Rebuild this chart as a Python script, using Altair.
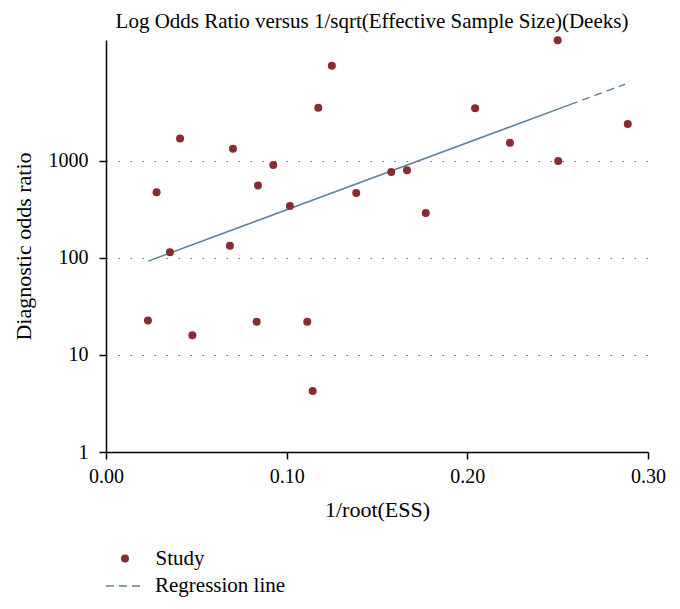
import altair as alt
import pandas as pd

# Study points: x = 1/root(ESS), y = diagnostic odds ratio
study_x = [0.250, 0.125, 0.1175, 0.2043, 0.2888, 0.0410, 0.0703, 0.2236, 0.2503,
           0.0926, 0.1579, 0.1666, 0.0280, 0.0841, 0.1385, 0.1018, 0.1770, 0.0354,
           0.0686, 0.0232, 0.0478, 0.0834, 0.1114, 0.1144]
study_dor = [17400, 9530, 3520, 3470, 2390, 1690, 1330, 1534, 993,
             903, 765, 796, 472, 557, 465, 341, 289, 114,
             133, 22.6, 15.9, 21.9, 21.9, 4.25]

# Regression line (solid over the data range, dashed extension)
reg_x = [0.0234, 0.2568]
reg_y = [92.5, 3780]
ext_x = [0.2568, 0.2873]
ext_y = [3780, 6130]

y_ticks = [1, 10, 100, 1000]
x_ticks = [0.0, 0.1, 0.2, 0.3]

RED = "#8B2B33"
BLUE = "#5E80A0"
FONT = "Liberation Serif"

pts = pd.DataFrame({"x": study_x, "y": study_dor, "kind": ["Study"] * len(study_x)})
reg = pd.DataFrame({"x": reg_x, "y": reg_y})
ext = pd.DataFrame({"x": ext_x, "y": ext_y, "kind2": ["Regression line"] * len(ext_x)})

xscale = alt.Scale(domain=[0, 0.3], nice=False, zero=False)
yscale = alt.Scale(type="log", domain=[1, 17500], nice=False)

xaxis = alt.Axis(values=x_ticks, format=".2f", title="1/root(ESS)", grid=False,
                 tickSize=7, labelPadding=7, titlePadding=13, labelFlush=False,
                 titleFontSize=22)
yaxis = alt.Axis(values=y_ticks, format="d", title="Diagnostic odds ratio",
                 grid=True, gridDash=[1.5, 10.5], gridColor="#666666", gridWidth=1.2,
                 tickSize=7, labelPadding=11, titlePadding=13, labelFlush=False,
                 titleFontSize=22)

points = alt.Chart(pts).mark_circle(size=64, opacity=1).encode(
    x=alt.X("x:Q", scale=xscale, axis=xaxis),
    y=alt.Y("y:Q", scale=yscale, axis=yaxis),
    color=alt.Color("kind:N", scale=alt.Scale(domain=["Study"], range=[RED]),
                    legend=alt.Legend(orient="none", legendX=8.5, legendY=508, title=None,
                                      padding=0, symbolType="circle", symbolSize=64,
                                      labelFont=FONT, labelFontSize=21, labelOffset=20,
                                      labelColor="black")),
)

line = alt.Chart(reg).mark_line(color=BLUE, strokeWidth=1.5).encode(
    x=alt.X("x:Q", scale=xscale),
    y=alt.Y("y:Q", scale=yscale),
)

dash = alt.Chart(ext).mark_line(color=BLUE, strokeWidth=1.5).encode(
    x=alt.X("x:Q", scale=xscale),
    y=alt.Y("y:Q", scale=yscale),
    strokeDash=alt.StrokeDash("kind2:N",
                              scale=alt.Scale(domain=["Regression line"], range=[[8, 5]]),
                              legend=alt.Legend(orient="none", legendX=-1, legendY=526.5,
                                                title=None, padding=0, symbolSize=1369,
                                                symbolStrokeWidth=1.5,
                                                labelFont=FONT, labelFontSize=21,
                                                labelOffset=11, labelColor="black")),
)

chart = alt.layer(line, dash, points).properties(
    width=542,
    height=412,
    autosize="none",
    padding={"left": 98, "top": 32, "right": 24, "bottom": 149},
    title=alt.TitleParams("Log Odds Ratio versus 1/sqrt(Effective Sample Size)(Deeks)",
                          font=FONT, fontSize=21, fontWeight="normal", color="black",
                          anchor="middle", offset=4, dx=-5),
).configure_view(stroke=None).configure_axis(
    labelFont=FONT, labelFontSize=20, labelColor="black",
    titleFont=FONT, titleFontWeight="normal", titleColor="black",
    domainColor="black", domainWidth=1.5, tickColor="black", tickWidth=1.5,
)

chart.save("out.html", embed_options={"renderer": "svg", "actions": False})
